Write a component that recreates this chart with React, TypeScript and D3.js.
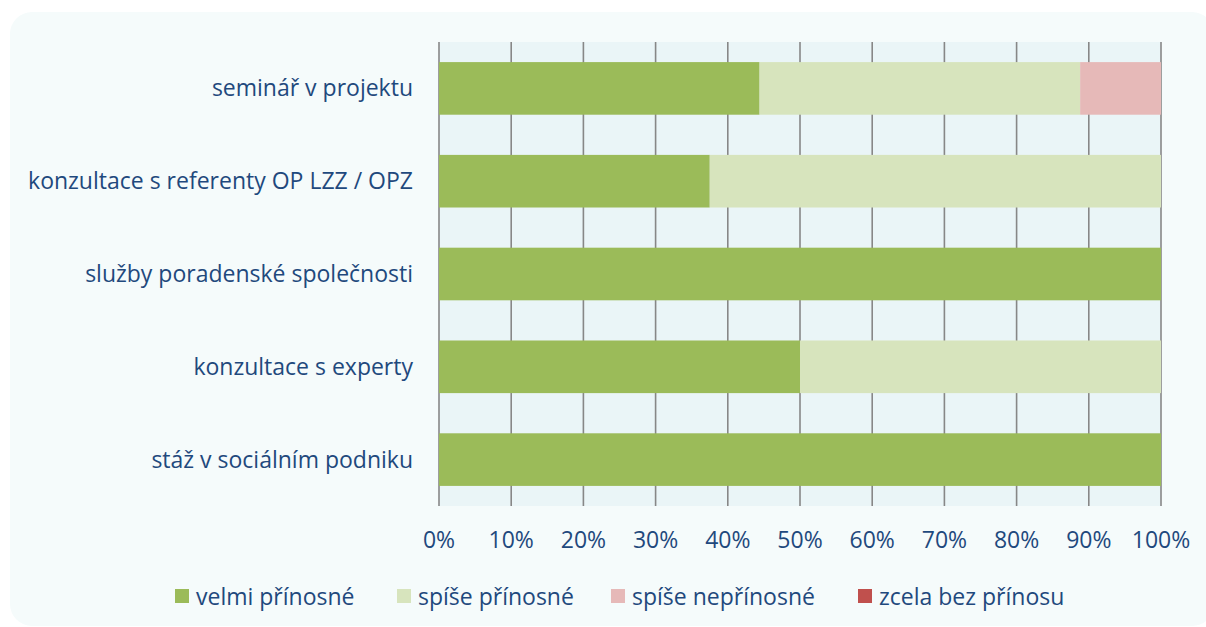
import React from "react";
import * as d3 from "d3";

const categories = [
  "seminář v projektu",
  "konzultace s referenty OP LZZ / OPZ",
  "služby poradenské společnosti",
  "konzultace s experty",
  "stáž v sociálním podniku",
];
const seriesNames = ["velmi přínosné", "spíše přínosné", "spíše nepřínosné", "zcela bez přínosu"];
const velmi = [44.4, 37.5, 100, 50, 100];
const spise = [44.4, 62.5, 0, 50, 0];
const nepri = [11.2, 0, 0, 0, 0];
const bez = [0, 0, 0, 0, 0];
const ticks = [0, 10, 20, 30, 40, 50, 60, 70, 80, 90, 100];

const colors = ["#9bbb59", "#d7e4bd", "#e6b9b8", "#c0504d"];
const W = 1206;
const H = 627;
const font = "'Open Sans', sans-serif";
const textColor = "#1f497d";

export default function App() {
  const x = d3.scaleLinear().domain([0, 100]).range([439, 1161]);
  const y = d3.scaleBand().domain(categories).range([42, 506]).paddingInner(0.433).paddingOuter(0.2165);

  const rows = categories.map((c, i) => ({ c, v: [velmi[i], spise[i], nepri[i], bez[i]] }));
  const stack = d3.stack<any>().keys([0, 1, 2, 3] as any).value((d: any, k: any) => d.v[k]);
  const layers = stack(rows as any);

  const legendX = [175, 397, 611, 858];

  return (
    <svg width={W} height={H} style={{ position: "absolute", left: 0, top: 0 }}>
      <rect x={10} y={12} width={1204} height={614} rx={22} fill="#f5fbfb" />
      <rect x={439} y={42} width={722} height={464} fill="#eaf5f7" />
      {ticks.map((t) => (
        <line key={t} x1={x(t)} x2={x(t)} y1={42} y2={506} stroke="#878787" strokeWidth={1.6} />
      ))}
      {layers.map((layer, k) =>
        layer.map((d: any, i: number) =>
          d[1] - d[0] > 0 ? (
            <rect
              key={k + "-" + i}
              x={x(d[0])}
              y={y(categories[i])}
              width={x(d[1]) - x(d[0])}
              height={y.bandwidth()}
              fill={colors[k]}
            />
          ) : null
        )
      )}
      {categories.map((c) => (
        <text
          key={c}
          x={413}
          y={(y(c) as number) + y.bandwidth() / 2}
          dy="0.35em"
          textAnchor="end"
          fontFamily={font}
          fontSize={23}
          fill={textColor}
        >
          {c}
        </text>
      ))}
      {ticks.map((t) => (
        <text key={t} x={x(t)} y={548} textAnchor="middle" fontFamily={font} fontSize={23} fill={textColor}>
          {t}%
        </text>
      ))}
      {seriesNames.map((s, i) => (
        <g key={s}>
          <rect x={legendX[i]} y={589} width={14} height={14} fill={colors[i]} />
          <text x={legendX[i] + 21} y={605} fontFamily={font} fontSize={23} fill={textColor}>
            {s}
          </text>
        </g>
      ))}
    </svg>
  );
}
